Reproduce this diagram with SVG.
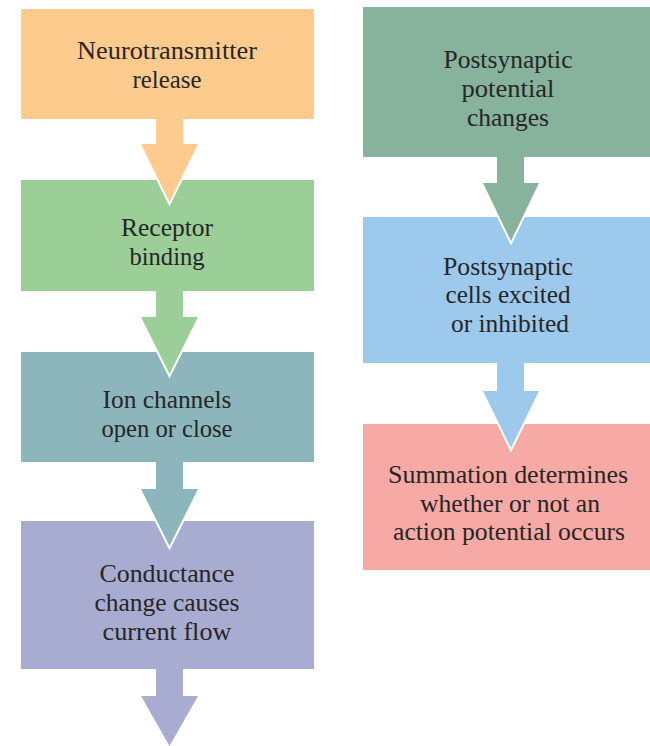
<svg xmlns="http://www.w3.org/2000/svg" width="650" height="746" viewBox="0 0 650 746">
  <style>
    .box { stroke: none; }
    .lbl { font-family: "Liberation Serif", "DejaVu Serif", "Times New Roman", Times, serif; font-size: 25px; fill: #262626; text-anchor: middle; }
    .head { stroke: #ffffff; stroke-width: 4; stroke-linejoin: miter; paint-order: stroke; }
  </style>
  <rect width="650" height="746" fill="#ffffff"/>

  <!-- left column -->
  <g id="n-release">
    <rect class="box" x="21" y="9" width="293" height="110" fill="#fdcb8d"/>
    <text class="lbl" font-family="Liberation Serif, DejaVu Serif, serif" x="167" y="59" textLength="180" lengthAdjust="spacingAndGlyphs">Neurotransmitter</text>
    <text class="lbl" font-family="Liberation Serif, DejaVu Serif, serif" x="167" y="88" textLength="69" lengthAdjust="spacingAndGlyphs">release</text>
  </g>
  <g id="n-binding">
    <rect class="box" x="21" y="180" width="293" height="111" fill="#9bcf97"/>
    <text class="lbl" x="167" y="236" textLength="92" lengthAdjust="spacingAndGlyphs">Receptor</text>
    <text class="lbl" x="167" y="265" textLength="75" lengthAdjust="spacingAndGlyphs">binding</text>
  </g>
  <g id="n-channels">
    <rect class="box" x="21" y="352" width="293" height="110" fill="#8cb6bc"/>
    <text class="lbl" x="167" y="408" textLength="129" lengthAdjust="spacingAndGlyphs">Ion channels</text>
    <text class="lbl" x="167" y="437" textLength="131" lengthAdjust="spacingAndGlyphs">open or close</text>
  </g>
  <g id="n-conductance">
    <rect class="box" x="21" y="521" width="293" height="148" fill="#a9acd1"/>
    <text class="lbl" x="167" y="582" textLength="135" lengthAdjust="spacingAndGlyphs">Conductance</text>
    <text class="lbl" x="167" y="611" textLength="145" lengthAdjust="spacingAndGlyphs">change causes</text>
    <text class="lbl" x="167" y="640" textLength="129" lengthAdjust="spacingAndGlyphs">current flow</text>
  </g>

  <!-- right column -->
  <g id="n-potential">
    <rect class="box" x="363" y="7" width="287" height="150" fill="#87b29c"/>
    <text class="lbl" x="508" y="68" textLength="129" lengthAdjust="spacingAndGlyphs">Postsynaptic</text>
    <text class="lbl" x="508" y="97" textLength="93" lengthAdjust="spacingAndGlyphs">potential</text>
    <text class="lbl" x="508" y="126" textLength="82" lengthAdjust="spacingAndGlyphs">changes</text>
  </g>
  <g id="n-excited">
    <rect class="box" x="363" y="217" width="287" height="146" fill="#9dc9ec"/>
    <text class="lbl" x="508" y="275" textLength="130" lengthAdjust="spacingAndGlyphs">Postsynaptic</text>
    <text class="lbl" x="508" y="303" textLength="125" lengthAdjust="spacingAndGlyphs">cells excited</text>
    <text class="lbl" x="510" y="332" textLength="118" lengthAdjust="spacingAndGlyphs">or inhibited</text>
  </g>
  <g id="n-summation">
    <rect class="box" x="363" y="424" width="287" height="146" fill="#f7aaa5"/>
    <text class="lbl" x="508" y="483" textLength="240" lengthAdjust="spacingAndGlyphs">Summation determines</text>
    <text class="lbl" x="510" y="512" textLength="180" lengthAdjust="spacingAndGlyphs">whether or not an</text>
    <text class="lbl" x="509" y="540" textLength="232" lengthAdjust="spacingAndGlyphs">action potential occurs</text>
  </g>

  <!-- block arrows: white-edged head, then shaft drawn over the head's base -->
  <g id="connectors">
    <polygon class="head" fill="#fdcb8d" points="141,144 198,144 169.5,202"/>
    <rect fill="#fdcb8d" x="156" y="119" width="27" height="27"/>

    <polygon class="head" fill="#9bcf97" points="141,317 198,317 169.5,374"/>
    <rect fill="#9bcf97" x="156" y="291" width="27" height="28"/>

    <polygon class="head" fill="#8cb6bc" points="141,489 198,489 169.5,546"/>
    <rect fill="#8cb6bc" x="156" y="462" width="27" height="29"/>

    <polygon class="head" fill="#a9acd1" points="141,696 198,696 169.5,746"/>
    <rect fill="#a9acd1" x="156" y="669" width="27" height="29"/>

    <polygon class="head" fill="#87b29c" points="483,183 539,183 511,241"/>
    <rect fill="#87b29c" x="497" y="157" width="27" height="28"/>

    <polygon class="head" fill="#9dc9ec" points="483,391 539,391 511,448"/>
    <rect fill="#9dc9ec" x="497" y="363" width="27" height="30"/>
  </g>
</svg>
